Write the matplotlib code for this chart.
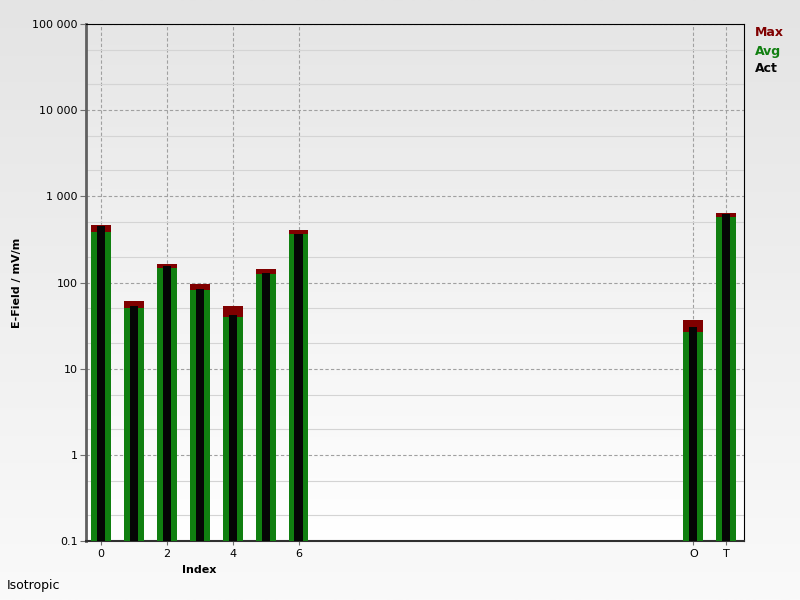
import numpy as np
import matplotlib.pyplot as plt
from matplotlib.colors import LinearSegmentedColormap
from matplotlib.ticker import FixedLocator, NullFormatter

# category positions on the index axis (7..17 are empty)
positions = [0, 1, 2, 3, 4, 5, 6, 18, 19]
max_vals = [464, 61, 164, 96, 53, 143, 406, 36.7, 635]
avg_vals = [385, 51, 148, 82, 40, 127, 368, 26.4, 571]
act_vals = [455, 53, 155, 85, 42, 128, 370, 30.4, 630]

tick_pos = [0, 2, 4, 6, 18, 19]
tick_labels = ['0', '2', '4', '6', 'O', 'T']
y_ticks = [0.1, 1, 10, 100, 1000, 10000, 100000]
y_labels = ['0.1', '1', '10', '100', '1 000', '10 000', '100 000']

red = '#800000'
green = '#107f10'
black = '#050505'

fig = plt.figure(figsize=(8, 6), dpi=100)
fig.patch.set_facecolor('#ededed')

# figure background gradient
grad = np.linspace(0, 1, 256).reshape(-1, 1)
bg = fig.add_axes([0, 0, 1, 1], zorder=-10)
bg.imshow(grad, aspect='auto', extent=[0, 1, 0, 1], origin='lower',
          cmap=LinearSegmentedColormap.from_list('bg', ['#fafafa', '#e4e4e4']))
bg.set_axis_off()

ax = fig.add_axes([0.1075, 0.0983, 0.8225, 0.8617])
ax.set_yscale('log')
ax.set_ylim(0.1, 100000)
ax.set_xlim(-0.46, 19.54)

# plot area gradient
ax.imshow(grad, aspect='auto', transform=ax.transAxes, extent=[0, 1, 0, 1], origin='lower',
          cmap=LinearSegmentedColormap.from_list('pa', ['#ffffff', '#e6e6e6']), zorder=0)

base = 0.1
ax.bar(positions, np.array(max_vals) - base, bottom=base, width=0.6, color=red, zorder=3)
ax.bar(positions, np.array(avg_vals) - base, bottom=base, width=0.6, color=green, zorder=4)
ax.bar(positions, np.array(act_vals) - base, bottom=base, width=0.25, color=black, zorder=5)

ax.yaxis.set_major_locator(FixedLocator(y_ticks))
ax.set_yticklabels(y_labels, fontsize=8)
minors = [m * 10.0 ** e for e in range(-1, 5) for m in (2, 5)]
ax.yaxis.set_minor_locator(FixedLocator(minors))
ax.yaxis.set_minor_formatter(NullFormatter())
ax.set_xticks(tick_pos)
ax.set_xticklabels(tick_labels, fontsize=8)

ax.grid(True, which='major', axis='both', color='#a0a0a0', linestyle=(0, (3, 2)), linewidth=0.8, zorder=1)
ax.grid(True, which='minor', axis='y', color='#d4d4d4', linestyle='-', linewidth=0.8, zorder=1)
ax.tick_params(axis='y', which='major', length=4, width=0.8, color='#707070', pad=2)
ax.tick_params(axis='x', which='major', length=3, width=0.8, color='#707070', pad=3)
ax.tick_params(axis='y', which='minor', length=0)

for s in ['top', 'right']:
    ax.spines[s].set_color('black')
    ax.spines[s].set_linewidth(0.8)
ax.spines['left'].set_color('#606060')
ax.spines['left'].set_linewidth(2)
ax.spines['bottom'].set_color('#303030')
ax.spines['bottom'].set_linewidth(1.5)

ax.set_ylabel('E-Field / mV/m', fontsize=8, fontweight='bold')
ax.yaxis.set_label_coords(-0.098, 0.5)
ax.set_xlabel('Index', fontsize=8, fontweight='bold')
ax.xaxis.set_label_coords((199 - 86) / 658, -0.047)

fig.text(0.944, 0.945, 'Max', color=red, fontsize=9, fontweight='bold', va='center')
fig.text(0.944, 0.915, 'Avg', color=green, fontsize=9, fontweight='bold', va='center')
fig.text(0.944, 0.885, 'Act', color=black, fontsize=9, fontweight='bold', va='center')
fig.text(0.008, 0.024, 'Isotropic', fontsize=9, va='center')

fig.savefig('out.png', dpi=100, facecolor=fig.get_facecolor())
